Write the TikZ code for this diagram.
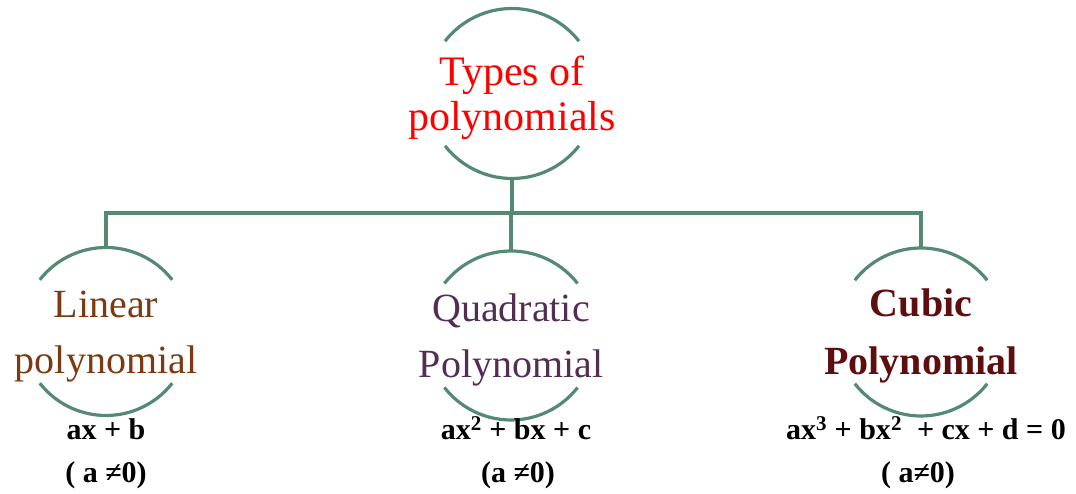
\documentclass[tikz,border=0pt]{standalone}
\usepackage{fontspec}
\setmainfont{Liberation Serif}
\definecolor{linecol}{RGB}{84,138,116}
\definecolor{lincol}{RGB}{123,58,18}
\definecolor{quadcol}{RGB}{82,46,82}
\definecolor{cubcol}{RGB}{94,14,14}
\begin{document}
\begin{tikzpicture}[x=1pt,y=1pt,
  circ/.style={circle,minimum size=#1,inner sep=0pt,outer sep=0pt},
  arcline/.style={draw=linecol,line width=3.2pt},
  conn/.style={draw=linecol,line width=3.2pt},
  label/.style={align=center,inner sep=0pt},
  big/.style={font=\fontsize{40}{56}\selectfont},
  formula/.style={font=\bfseries\fontsize{30}{32}\selectfont,anchor=base,inner sep=0pt}]
\useasboundingbox (0,0) rectangle (1076,494);
% circle shapes
\node[circ=170pt] (top) at (512,400.5) {};
\node[circ=168pt] (lin) at (106,162.5) {};
\node[circ=169pt] (quad) at (511,158.5) {};
\node[circ=168pt] (cub) at (921,162) {};
% texts
\node[label,text=red,font=\fontsize{42}{45}\selectfont] (ttop) at ([yshift=-4pt]top.center) {Types of\\polynomials};
\node[label,text=lincol,big] (tlin) at ([yshift=-5pt]lin.center) {Linear\\polynomial};
\node[label,text=quadcol,big] (tquad) at ([yshift=-4pt]quad.center) {Quadratic\\Polynomial};
\node[label,text=cubcol,font=\bfseries\fontsize{40}{58}\selectfont] (tcub) at ([yshift=-4pt]cub.center) {Cubic\\Polynomial};
% arcs
\foreach \n/\r in {top/85,lin/84,quad/84.5,cub/84}{
  \draw[arcline] (\n.38) arc[start angle=38,end angle=142,radius=\r];
  \draw[arcline] (\n.218) arc[start angle=218,end angle=322,radius=\r];
}
% connectors
\coordinate (bus) at (512,281);
\draw[conn] (top.south) -- (top.south |- bus);
\draw[conn] (quad.north) -- (quad.north |- bus);
\draw[conn] (lin.north) -- (lin.north |- bus) -- (cub.north |- bus) -- (cub.north);
% formulas
\node[formula] (f1) at (106,54) {ax + b};
\node[formula] (c1) at (106,11) {( a ≠0)};
\node[formula] (f2) at (516,54) {ax\textsuperscript{2} + bx + c};
\node[formula] (c2) at (518,11) {(a ≠0)};
\node[formula] (f3) at (926,54) {ax\textsuperscript{3} + bx\textsuperscript{2}\ \ + cx + d = 0};
\node[formula] (c3) at (918,11) {( a≠0)};
\end{tikzpicture}
\end{document}
